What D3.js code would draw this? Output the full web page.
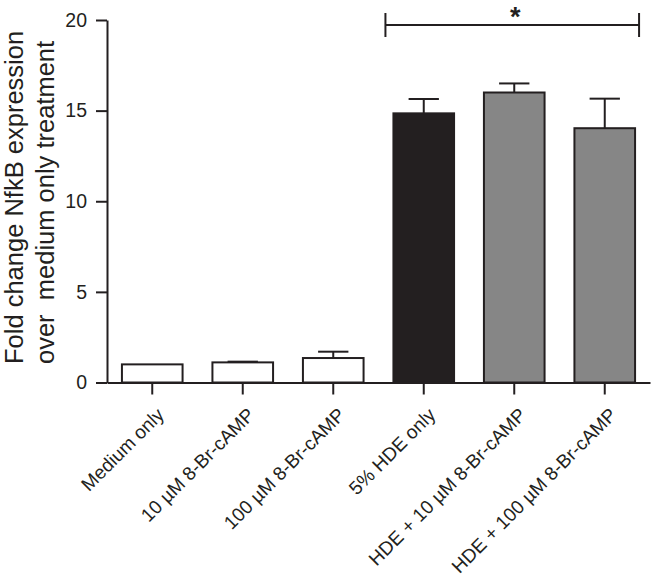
<!DOCTYPE html>
<html>
<head>
<meta charset="utf-8">
<script src="https://cdn.jsdelivr.net/npm/d3@7"></script>
<style>
  html, body { margin: 0; padding: 0; background: #fff; }
  svg { display: block; font-family: "Liberation Sans", Arial, Helvetica, sans-serif; }
</style>
</head>
<body>
<svg id="chart" width="652" height="580"></svg>
<script>
const categories = ["Medium only", "10 µM 8-Br-cAMP", "100 µM 8-Br-cAMP", "5% HDE only", "HDE + 10 µM 8-Br-cAMP", "HDE + 100 µM 8-Br-cAMP"];
const means = [1.0, 1.11, 1.35, 14.85, 16.0, 14.03];
const errors = [0, 0.04, 0.35, 0.79, 0.5, 1.63];
const fills = ["#ffffff", "#ffffff", "#ffffff", "#231f20", "#868686", "#868686"];
const yTicks = [0, 5, 10, 15, 20];
const yTitle = ["Fold change NfkB expression", "over  medium only treatment"];
const sigLabel = "*";
const sigFrom = "5% HDE only", sigTo = "HDE + 100 µM 8-Br-cAMP";

const ink = "#231f20";
const svg = d3.select("#chart");

const x = d3.scaleBand().domain(categories).range([107, 650]).paddingInner(0.33).paddingOuter(0.165);
const y = d3.scaleLinear().domain([0, 20]).range([382.5, 20]);

// Bars
svg.append("g").selectAll("rect").data(categories).join("rect")
  .attr("x", d => x(d))
  .attr("y", (d, i) => y(means[i]))
  .attr("width", x.bandwidth())
  .attr("height", (d, i) => y(0) - y(means[i]))
  .attr("fill", (d, i) => fills[i])
  .attr("stroke", ink)
  .attr("stroke-width", 2);

// Error bars (upper only)
const eg = svg.append("g").attr("stroke", ink).attr("stroke-width", 2);
categories.forEach((c, i) => {
  if (errors[i] <= 0) return;
  const cx = x(c) + x.bandwidth() / 2;
  const cw = x.bandwidth() / 4;
  eg.append("line").attr("x1", cx).attr("x2", cx).attr("y1", y(means[i])).attr("y2", y(means[i] + errors[i]));
  eg.append("line").attr("x1", cx - cw).attr("x2", cx + cw).attr("y1", y(means[i] + errors[i])).attr("y2", y(means[i] + errors[i]));
});

// Y axis
const yAxis = svg.append("g").attr("transform", "translate(107,0)")
  .call(d3.axisLeft(y).tickValues(yTicks).tickSize(11).tickSizeOuter(0).tickPadding(9));
yAxis.selectAll("path, line").attr("stroke", ink).attr("stroke-width", 2);
yAxis.selectAll("text").attr("font-size", 19.5).attr("fill", ink).attr("font-family", "Liberation Sans, Arial, sans-serif");

// X axis
const xAxis = svg.append("g").attr("transform", `translate(0,${y(0)})`)
  .call(d3.axisBottom(x).tickSize(12).tickSizeOuter(0).tickFormat(""));
xAxis.selectAll("path, line").attr("stroke", ink).attr("stroke-width", 2);

// X labels
svg.append("g").selectAll("text").data(categories).join("text")
  .attr("transform", d => `translate(${x(d) + x.bandwidth() / 2 + 13},416) rotate(-45)`)
  .attr("text-anchor", "end")
  .attr("font-size", 19)
  .attr("fill", ink)
  .text(d => d);

// Y title
svg.append("g").selectAll("text").data(yTitle).join("text")
  .attr("transform", (d, i) => `translate(${22.5 + i * 31},364) rotate(-90)`)
  .attr("text-anchor", "start")
  .attr("font-size", 25.5)
  .attr("fill", ink)
  .style("white-space", "pre")
  .text(d => d);

// Significance bracket
const bx1 = x(sigFrom) - 8, bx2 = x(sigTo) + x.bandwidth() + 4, by = 25;
const bg = svg.append("g").attr("stroke", ink).attr("stroke-width", 2);
bg.append("line").attr("x1", bx1).attr("x2", bx2).attr("y1", by).attr("y2", by);
bg.append("line").attr("x1", bx1).attr("x2", bx1).attr("y1", by - 12).attr("y2", by + 12);
bg.append("line").attr("x1", bx2).attr("x2", bx2).attr("y1", by - 12).attr("y2", by + 12);
svg.append("text").attr("x", (bx1 + bx2) / 2 + 3).attr("y", 26)
  .attr("text-anchor", "middle").attr("font-size", 27).attr("font-weight", "bold")
  .attr("fill", ink).text(sigLabel);
</script>
</body>
</html>
